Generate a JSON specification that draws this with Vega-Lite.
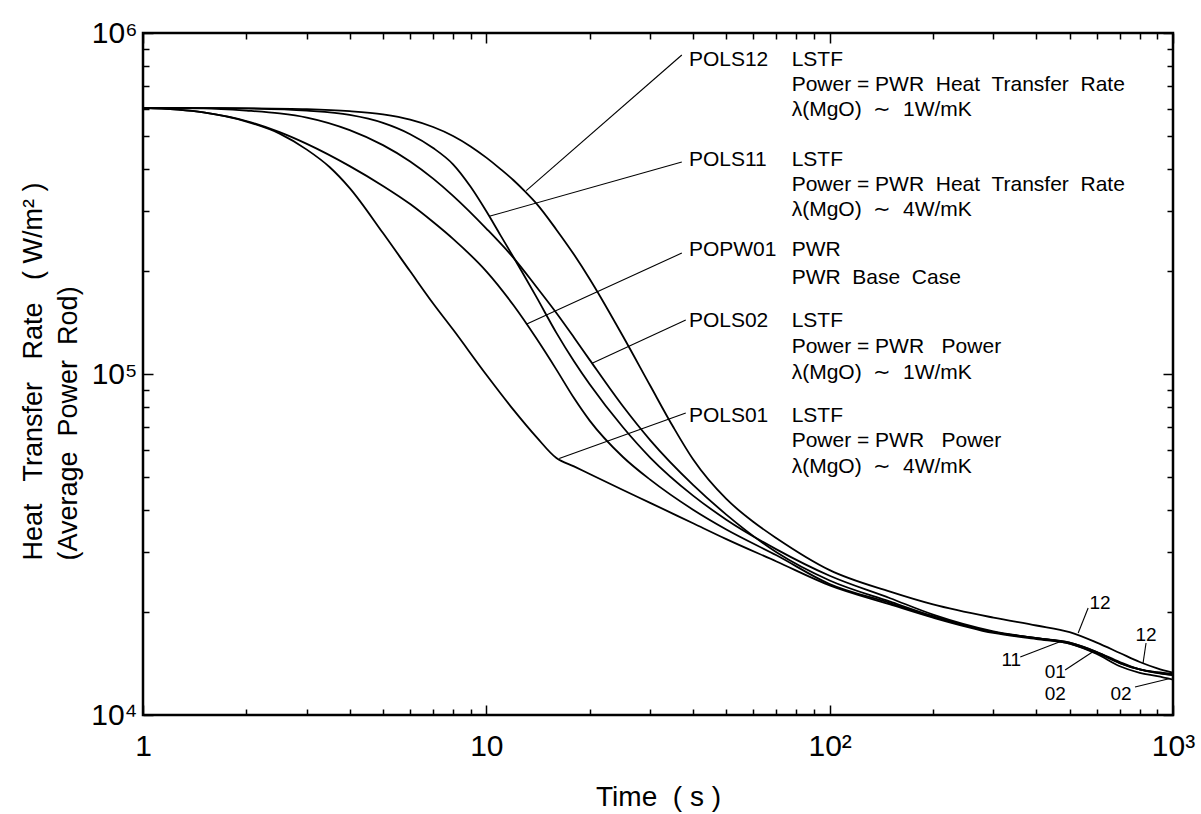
{
"$schema":"https://vega.github.io/schema/vega-lite/v6.json",
"width":1030,"height":682,
"autosize":{"type":"none"},
"padding":{"left":143,"top":33,"right":28,"bottom":99},
"background":"white",
"config":{
 "view":{"stroke":"black","strokeWidth":2.5},
 "axis":{"grid":false,"domain":false,"tickColor":"black","tickWidth":1.5,"labelColor":"black","titleColor":"black","labelFont":"Liberation Sans","titleFont":"Liberation Sans","titleFontWeight":"normal","labelFlush":false,"labelOverlap":false,"labelBound":false}
},
"datasets":{
 "curves":[
  {"series":"POLS12","t":1,"q":603000},{"series":"POLS12","t":1.5,"q":602500},{"series":"POLS12","t":2,"q":601500},{"series":"POLS12","t":3,"q":598000},{"series":"POLS12","t":4,"q":590000},{"series":"POLS12","t":5,"q":577000},{"series":"POLS12","t":6,"q":557000},{"series":"POLS12","t":7,"q":530000},{"series":"POLS12","t":8,"q":499000},{"series":"POLS12","t":9,"q":465000},{"series":"POLS12","t":10,"q":431000},{"series":"POLS12","t":11,"q":399000},{"series":"POLS12","t":12,"q":370000},{"series":"POLS12","t":13,"q":342000},{"series":"POLS12","t":14,"q":316000},{"series":"POLS12","t":16,"q":265000},{"series":"POLS12","t":18,"q":224000},{"series":"POLS12","t":20,"q":190000},{"series":"POLS12","t":25,"q":129000},{"series":"POLS12","t":30,"q":92500},{"series":"POLS12","t":35,"q":70000},{"series":"POLS12","t":40,"q":56200},{"series":"POLS12","t":50,"q":43000},{"series":"POLS12","t":60,"q":36800},{"series":"POLS12","t":70,"q":33000},{"series":"POLS12","t":100,"q":26600},{"series":"POLS12","t":150,"q":23000},{"series":"POLS12","t":200,"q":21100},{"series":"POLS12","t":300,"q":19300},{"series":"POLS12","t":400,"q":18300},{"series":"POLS12","t":500,"q":17500},{"series":"POLS12","t":600,"q":16300},{"series":"POLS12","t":700,"q":15200},{"series":"POLS12","t":800,"q":14300},{"series":"POLS12","t":900,"q":13700},{"series":"POLS12","t":1000,"q":13300},
  {"series":"POLS11","t":1,"q":603000},{"series":"POLS11","t":1.5,"q":602500},{"series":"POLS11","t":2,"q":601000},{"series":"POLS11","t":3,"q":592000},{"series":"POLS11","t":4,"q":575000},{"series":"POLS11","t":5,"q":545000},{"series":"POLS11","t":6,"q":505000},{"series":"POLS11","t":7,"q":460000},{"series":"POLS11","t":8,"q":412000},{"series":"POLS11","t":9,"q":354000},{"series":"POLS11","t":10,"q":300000},{"series":"POLS11","t":11,"q":255000},{"series":"POLS11","t":12,"q":220000},{"series":"POLS11","t":14,"q":168000},{"series":"POLS11","t":16,"q":132000},{"series":"POLS11","t":18,"q":109000},{"series":"POLS11","t":20,"q":93300},{"series":"POLS11","t":25,"q":69800},{"series":"POLS11","t":30,"q":56900},{"series":"POLS11","t":40,"q":44000},{"series":"POLS11","t":50,"q":37400},{"series":"POLS11","t":70,"q":30600},{"series":"POLS11","t":100,"q":25600},{"series":"POLS11","t":150,"q":22000},{"series":"POLS11","t":200,"q":19700},{"series":"POLS11","t":300,"q":17600},{"series":"POLS11","t":400,"q":16800},{"series":"POLS11","t":500,"q":16300},{"series":"POLS11","t":600,"q":15300},{"series":"POLS11","t":700,"q":14200},{"series":"POLS11","t":800,"q":13600},{"series":"POLS11","t":900,"q":13350},{"series":"POLS11","t":1000,"q":13200},
  {"series":"POLS02","t":1,"q":603000},{"series":"POLS02","t":1.5,"q":601000},{"series":"POLS02","t":2,"q":592000},{"series":"POLS02","t":2.5,"q":581000},{"series":"POLS02","t":3,"q":565000},{"series":"POLS02","t":4,"q":519000},{"series":"POLS02","t":5,"q":469000},{"series":"POLS02","t":6,"q":420000},{"series":"POLS02","t":7,"q":374000},{"series":"POLS02","t":8,"q":333000},{"series":"POLS02","t":10,"q":267000},{"series":"POLS02","t":12,"q":219000},{"series":"POLS02","t":14,"q":180000},{"series":"POLS02","t":16,"q":151000},{"series":"POLS02","t":18,"q":128000},{"series":"POLS02","t":20,"q":110000},{"series":"POLS02","t":25,"q":80400},{"series":"POLS02","t":30,"q":64000},{"series":"POLS02","t":40,"q":47300},{"series":"POLS02","t":50,"q":38700},{"series":"POLS02","t":70,"q":30000},{"series":"POLS02","t":100,"q":24800},{"series":"POLS02","t":150,"q":21500},{"series":"POLS02","t":200,"q":19500},{"series":"POLS02","t":300,"q":17500},{"series":"POLS02","t":400,"q":16800},{"series":"POLS02","t":500,"q":16200},{"series":"POLS02","t":600,"q":15100},{"series":"POLS02","t":700,"q":13900},{"series":"POLS02","t":800,"q":13300},{"series":"POLS02","t":900,"q":13000},{"series":"POLS02","t":1000,"q":12700},
  {"series":"POPW01","t":1,"q":603000},{"series":"POPW01","t":1.5,"q":585000},{"series":"POPW01","t":2,"q":552000},{"series":"POPW01","t":2.5,"q":512000},{"series":"POPW01","t":3,"q":473000},{"series":"POPW01","t":4,"q":407000},{"series":"POPW01","t":5,"q":356000},{"series":"POPW01","t":6,"q":315000},{"series":"POPW01","t":7,"q":279000},{"series":"POPW01","t":8,"q":249000},{"series":"POPW01","t":10,"q":200000},{"series":"POPW01","t":12,"q":159000},{"series":"POPW01","t":14,"q":127000},{"series":"POPW01","t":16,"q":103000},{"series":"POPW01","t":18,"q":85000},{"series":"POPW01","t":20,"q":73000},{"series":"POPW01","t":25,"q":57100},{"series":"POPW01","t":30,"q":49000},{"series":"POPW01","t":40,"q":40000},{"series":"POPW01","t":50,"q":35000},{"series":"POPW01","t":70,"q":29400},{"series":"POPW01","t":100,"q":24200},{"series":"POPW01","t":150,"q":21300},{"series":"POPW01","t":200,"q":19400},{"series":"POPW01","t":300,"q":17500},{"series":"POPW01","t":400,"q":16800},{"series":"POPW01","t":500,"q":16300},{"series":"POPW01","t":600,"q":15300},{"series":"POPW01","t":700,"q":14300},{"series":"POPW01","t":800,"q":13600},{"series":"POPW01","t":1000,"q":13100},
  {"series":"POLS01","t":1,"q":603000},{"series":"POLS01","t":1.5,"q":585000},{"series":"POLS01","t":2,"q":550000},{"series":"POLS01","t":2.5,"q":507000},{"series":"POLS01","t":3,"q":455000},{"series":"POLS01","t":3.5,"q":404000},{"series":"POLS01","t":4,"q":351000},{"series":"POLS01","t":5,"q":259000},{"series":"POLS01","t":6,"q":200000},{"series":"POLS01","t":7,"q":161000},{"series":"POLS01","t":8,"q":135000},{"series":"POLS01","t":10,"q":99500},{"series":"POLS01","t":12,"q":78500},{"series":"POLS01","t":14,"q":65300},{"series":"POLS01","t":16,"q":56700},{"series":"POLS01","t":18,"q":53600},{"series":"POLS01","t":20,"q":50900},{"series":"POLS01","t":25,"q":45700},{"series":"POLS01","t":30,"q":41900},{"series":"POLS01","t":40,"q":36500},{"series":"POLS01","t":50,"q":32800},{"series":"POLS01","t":70,"q":28200},{"series":"POLS01","t":100,"q":24000},{"series":"POLS01","t":150,"q":21100},{"series":"POLS01","t":200,"q":19300},{"series":"POLS01","t":300,"q":17400},{"series":"POLS01","t":400,"q":16700},{"series":"POLS01","t":500,"q":16200},{"series":"POLS01","t":600,"q":15200},{"series":"POLS01","t":700,"q":14200},{"series":"POLS01","t":800,"q":13600},{"series":"POLS01","t":1000,"q":13100}
 ],
 "leaders":[
  {"t1":37.1,"q1":862000,"t2":13.07,"q2":345000},
  {"t1":37.1,"q1":418400,"t2":10.2,"q2":290000},
  {"t1":37.1,"q1":226300,"t2":13.07,"q2":140000},
  {"t1":38.1,"q1":144000,"t2":20.33,"q2":107500},
  {"t1":38.1,"q1":76800,"t2":16.3,"q2":56500},
  {"t1":566,"q1":20600,"t2":529.5,"q2":17400},
  {"t1":359,"q1":14800,"t2":472.5,"q2":16450},
  {"t1":485,"q1":13550,"t2":585.6,"q2":15350},
  {"t1":834.6,"q1":16260,"t2":818,"q2":14200},
  {"t1":775,"q1":12080,"t2":980,"q2":12800}
 ],
 "labels":[
  {"t":38.9,"q":833000,"text":"POLS12"},{"t":77.5,"q":833000,"text":"LSTF"},
  {"t":77.5,"q":704000,"text":"Power = PWR\u00a0 Heat\u00a0 Transfer\u00a0 Rate"},
  {"t":77.5,"q":595000,"text":"λ(MgO)\u00a0 ∼\u00a0 1W/mK"},
  {"t":38.9,"q":424300,"text":"POLS11"},{"t":77.5,"q":424300,"text":"LSTF"},
  {"t":77.5,"q":358500,"text":"Power = PWR\u00a0 Heat\u00a0 Transfer\u00a0 Rate"},
  {"t":77.5,"q":302600,"text":"λ(MgO)\u00a0 ∼\u00a0 4W/mK"},
  {"t":38.9,"q":231000,"text":"POPW01"},{"t":77.5,"q":231000,"text":"PWR"},
  {"t":77.5,"q":191200,"text":"PWR\u00a0 Base\u00a0 Case"},
  {"t":38.9,"q":143000,"text":"POLS02"},{"t":77.5,"q":143000,"text":"LSTF"},
  {"t":77.5,"q":120000,"text":"Power = PWR\u00a0\u00a0 Power"},
  {"t":77.5,"q":100700,"text":"λ(MgO)\u00a0 ∼\u00a0 1W/mK"},
  {"t":38.9,"q":75300,"text":"POLS01"},{"t":77.5,"q":75300,"text":"LSTF"},
  {"t":77.5,"q":63600,"text":"Power = PWR\u00a0\u00a0 Power"},
  {"t":77.5,"q":53400,"text":"λ(MgO)\u00a0 ∼\u00a0 4W/mK"}
 ],
 "small":[
  {"t":613,"q":21300,"text":"12"},
  {"t":338,"q":14500,"text":"11"},
  {"t":454,"q":13370,"text":"01"},
  {"t":454,"q":11520,"text":"02"},
  {"t":835,"q":17160,"text":"12"},
  {"t":706,"q":11520,"text":"02"}
 ]
},
"layer":[
 {"data":{"name":"curves"},
  "mark":{"type":"line","color":"black","interpolate":"monotone","clip":true},
  "encoding":{
   "x":{"field":"t","type":"quantitative","scale":{"type":"log","domain":[1,1000]},
        "axis":{"orient":"bottom","values":[1,10,100,1000],"labelExpr":"datum.value == 1 ? '1' : datum.value == 10 ? '10' : datum.value == 100 ? '10²' : '10³'","tickSize":-10,"labelPadding":26,"labelFontSize":30,"title":"Time\u00a0 (\u00a0s\u00a0)","titleFontSize":28,"titleX":515,"titleY":82,"titleAlign":"center","titleBaseline":"middle"}},
   "y":{"field":"q","type":"quantitative","scale":{"type":"log","domain":[10000,1000000]},
        "axis":{"orient":"left","values":[10000,100000,1000000],"labelExpr":"datum.value == 10000 ? '10⁴' : datum.value == 100000 ? '10⁵' : '10⁶'","tickSize":-10,"labelPadding":16,"labelFontSize":30,"labelBaseline":"middle",
          "title":["Heat\u00a0\u00a0 Transfer\u00a0\u00a0 Rate\u00a0\u00a0 ( W/m² )","(Average\u00a0 Power\u00a0 Rod)"],"titleFontSize":27,"titleAngle":-90,"titleAlign":"left","titleBaseline":"top","titleX":-123,"titleY":527,"titleLineHeight":35}},
   "detail":{"field":"series","type":"nominal"},
   "strokeWidth":{"field":"series","type":"nominal","scale":{"domain":["POLS01","POLS02","POLS11","POLS12","POPW01"],"range":[1.8,1.8,1.8,1.8,3.4]},"legend":null}
  }},
 {"data":{"name":"leaders"},
  "mark":{"type":"rule","color":"black","strokeWidth":1.1},
  "encoding":{
   "x":{"field":"t1","type":"quantitative","scale":{"type":"log","domain":[1,1000]},
        "axis":{"orient":"bottom","values":[2,3,4,5,6,7,8,9,20,30,40,50,60,70,80,90,200,300,400,500,600,700,800,900],"labels":false,"tickSize":-6,"title":null}},
   "x2":{"field":"t2"},
   "y":{"field":"q1","type":"quantitative","scale":{"type":"log","domain":[10000,1000000]},
        "axis":{"orient":"left","values":[20000,30000,40000,50000,60000,70000,80000,90000,200000,300000,400000,500000,600000,700000,800000,900000],"labels":false,"tickSize":-6,"title":null}},
   "y2":{"field":"q2"}
  }},
 {"data":{"name":"labels"},
  "mark":{"type":"text","color":"black","align":"left","baseline":"middle","fontSize":21,"font":"Liberation Sans"},
  "encoding":{
   "x":{"field":"t","type":"quantitative","scale":{"type":"log","domain":[1,1000]},
        "axis":{"orient":"top","values":[1,10,100,1000],"labels":false,"tickSize":-10,"title":null}},
   "y":{"field":"q","type":"quantitative","scale":{"type":"log","domain":[10000,1000000]},
        "axis":{"orient":"right","values":[10000,100000,1000000],"labels":false,"tickSize":-10,"title":null}},
   "text":{"field":"text"}
  }},
 {"data":{"name":"small"},
  "mark":{"type":"text","color":"black","align":"center","baseline":"middle","fontSize":19,"font":"Liberation Sans"},
  "encoding":{
   "x":{"field":"t","type":"quantitative","scale":{"type":"log","domain":[1,1000]},
        "axis":{"orient":"top","values":[2,3,4,5,6,7,8,9,20,30,40,50,60,70,80,90,200,300,400,500,600,700,800,900],"labels":false,"tickSize":-6,"title":null}},
   "y":{"field":"q","type":"quantitative","scale":{"type":"log","domain":[10000,1000000]},
        "axis":{"orient":"right","values":[20000,30000,40000,50000,60000,70000,80000,90000,200000,300000,400000,500000,600000,700000,800000,900000],"labels":false,"tickSize":-6,"title":null}},
   "text":{"field":"text"}
  }}
],
"resolve":{"axis":{"x":"independent","y":"independent"}}
}
